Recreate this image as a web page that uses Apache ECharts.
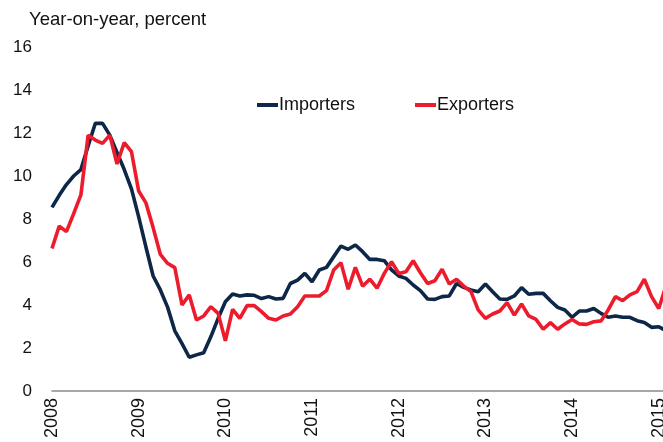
<!DOCTYPE html>
<html>
<head>
<meta charset="utf-8">
<script src="https://cdn.jsdelivr.net/npm/echarts@6/dist/echarts.min.js"></script>
<style>
  html, body { margin: 0; padding: 0; background: #fff; }
  #chart { width: 663px; height: 442px; }
</style>
</head>
<body>
<div id="chart"></div>
<script>
// Years shown on the horizontal axis (one label per January)
const years = ['2008', '2009', '2010', '2011', '2012', '2013', '2014', '2015'];
const lastMonthOfFinalYear = 2; // series run through February 2015

// Year-on-year growth, percent, monthly from January 2008
const importers = [
  8.54, 9.1, 9.6, 10.0, 10.3, 11.4, 12.45, 12.45, 11.9, 11.1, 10.3, 9.4,
  8.1, 6.7, 5.35, 4.7, 3.9, 2.8, 2.2, 1.57, 1.68, 1.78, 2.53, 3.38,
  4.15, 4.51, 4.42, 4.47, 4.45, 4.3, 4.39, 4.28, 4.31, 5.0, 5.16, 5.47,
  5.08, 5.63, 5.75, 6.25, 6.74, 6.59, 6.79, 6.48, 6.12, 6.12, 6.06, 5.63,
  5.35, 5.24, 4.93, 4.67, 4.28, 4.26, 4.39, 4.42, 5.0, 4.82, 4.7, 4.62,
  4.98, 4.62, 4.28, 4.26, 4.42, 4.81, 4.5, 4.54, 4.54, 4.2, 3.89, 3.77,
  3.43, 3.72, 3.72, 3.84, 3.61, 3.43, 3.49, 3.43, 3.43, 3.27, 3.19, 2.96,
  2.99, 2.8
];
const exporters = [
  6.63, 7.67, 7.41, 8.25, 9.12, 11.9, 11.67, 11.52, 11.9, 10.56, 11.55, 11.13,
  9.3, 8.75, 7.6, 6.35, 5.94, 5.74, 4.0, 4.47, 3.3, 3.49, 3.92, 3.61,
  2.33, 3.8, 3.38, 3.97, 3.97, 3.69, 3.38, 3.3, 3.49, 3.58, 3.92, 4.42,
  4.42, 4.42, 4.67, 5.63, 5.97, 4.73, 5.75, 4.88, 5.2, 4.78, 5.47, 6.01,
  5.47, 5.55, 6.06, 5.5, 5.0, 5.13, 5.66, 4.98, 5.2, 4.88, 4.62, 3.77,
  3.38, 3.58, 3.72, 4.11, 3.53, 4.05, 3.49, 3.33, 2.87, 3.18, 2.87, 3.12,
  3.33, 3.12, 3.1, 3.22, 3.26, 3.77, 4.39, 4.2, 4.47, 4.62, 5.2, 4.39,
  3.84, 4.9
];

// Monthly category labels built from the year list
const months = [];
years.forEach((y, i) => {
  const n = i === years.length - 1 ? lastMonthOfFinalYear : 12;
  for (let m = 1; m <= n; m++) months.push(y + '-' + String(m).padStart(2, '0'));
});

const FONT = '"Liberation Sans", Arial, sans-serif';
const NAVY = '#0c2747';
const RED = '#ec1c2d';

const chart = echarts.init(document.getElementById('chart'), null, { renderer: 'canvas' });

const legendText = { fontFamily: FONT, fontSize: 18, color: '#111', padding: [0, 0, 0, -4] };

chart.setOption({
  animation: false,
  backgroundColor: '#fff',
  title: {
    text: 'Year-on-year, percent',
    left: 29,
    top: 10,
    padding: 0,
    textStyle: { fontFamily: FONT, fontSize: 18.5, fontWeight: 'normal', color: '#111' }
  },
  legend: [
    {
      data: ['Importers'],
      left: 257, top: 96, padding: 0,
      icon: 'rect', itemWidth: 21, itemHeight: 4,
      textStyle: legendText
    },
    {
      data: ['Exporters'],
      left: 415, top: 96, padding: 0,
      icon: 'rect', itemWidth: 21, itemHeight: 4,
      textStyle: legendText
    }
  ],
  grid: { left: 52, right: -3, top: 47, bottom: 51, outerBoundsMode: 'none' },
  xAxis: {
    type: 'category',
    data: months,
    boundaryGap: false,
    axisLine: { show: true, lineStyle: { color: '#8a8a8a', width: 1.5 } },
    axisTick: { show: false },
    splitLine: { show: false },
    axisLabel: {
      interval: (idx) => idx % 12 === 0,
      formatter: (v) => v.slice(0, 4),
      rotate: 90,
      margin: 7,
      hideOverlap: false,
      fontFamily: FONT,
      fontSize: 18,
      color: '#111'
    }
  },
  yAxis: {
    type: 'value',
    min: 0,
    max: 16,
    interval: 2,
    axisLine: { show: false },
    axisTick: { show: false },
    splitLine: { show: false },
    axisLabel: { margin: 20, fontFamily: FONT, fontSize: 17, color: '#111' }
  },
  series: [
    {
      name: 'Importers',
      type: 'line',
      data: importers,
      symbol: 'none',
      lineStyle: { color: NAVY, width: 3.6 },
      itemStyle: { color: NAVY },
      z: 2
    },
    {
      name: 'Exporters',
      type: 'line',
      data: exporters,
      symbol: 'none',
      lineStyle: { color: RED, width: 3.6 },
      itemStyle: { color: RED },
      z: 3
    }
  ]
});
</script>
</body>
</html>
